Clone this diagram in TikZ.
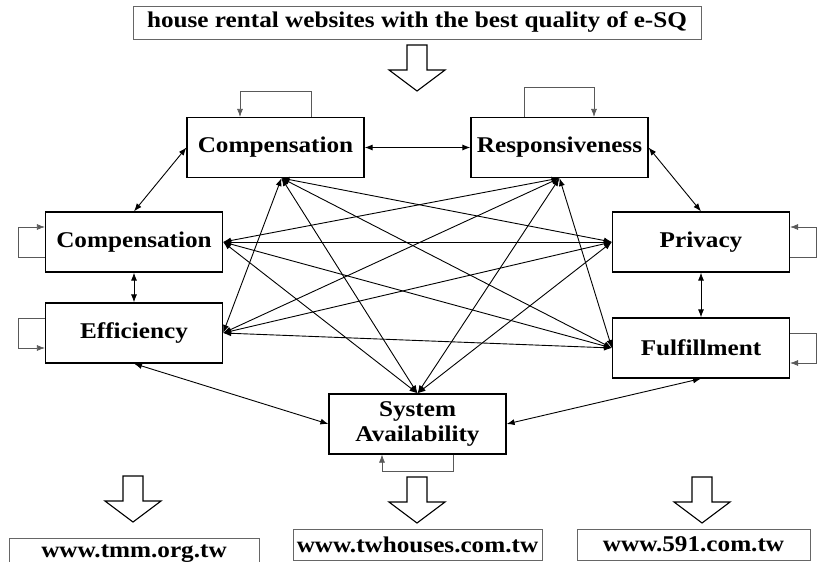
\documentclass[tikz,border=0pt]{standalone}
\usepackage{fontspec}
\setmainfont{Liberation Serif}
\newfontfamily\boxfont[FakeStretch=1.12]{Liberation Serif}
\usepackage{tikz}
\usetikzlibrary{arrows.meta, positioning, calc}

\begin{document}
\begin{tikzpicture}[
  x=1pt, y=-1pt,
  every node/.style={font=\boxfont\bfseries\fontsize{22.5}{25}\selectfont},
  factor/.style={rectangle, draw, line width=1.2pt, minimum width=177pt,
                 minimum height=60pt, align=center, inner sep=2pt},
  site/.style={rectangle, draw=black!60, line width=0.9pt,
               minimum height=31pt, inner sep=2pt},
  link/.style={{Latex[length=8pt,width=6pt]}-{Latex[length=8pt,width=6pt]},
               line width=0.9pt},
  self/.style={-{Latex[length=8pt,width=6pt]}, draw=black!65, line width=0.7pt},
  hollow/.style={draw, line width=1.1pt, fill=white},
  blockarrow/.pic={\draw[hollow] (-10,0) -- (10,0) -- (10,25) -- (28,25)
                   -- (0,46) -- (-28,25) -- (-10,25) -- cycle;},
]
  \useasboundingbox (0,0) rectangle (817,562);
  \clip (0,0) rectangle (817,562);

  \node[site, minimum width=568pt, minimum height=33pt] (title) at (417,22.5)
    {house rental websites with the best quality of e-SQ};
  \pic at (417,45) {blockarrow};

  \node[factor] (comptop) at (275.5,147.5) {Compensation};
  \node[factor] (resp) at (559.5,147.5) {Responsiveness};
  \node[factor] (compleft) at (134,242) {Compensation};
  \node[factor] (eff) at (134,333) {Efficiency};
  \node[factor] (priv) at (701,242) {Privacy};
  \node[factor] (fulf) at (701,348) {Fulfillment};
  \node[factor] (sa) at (417.5,424) {System\\Availability};

  % self loops
  \draw[self] ($(comptop.north)+(36,0)$) -- ++(0,-26) -| ($(comptop.north)+(-35.5,0)$);
  \draw[self] ($(resp.north)+(-35.5,0)$) -- ++(0,-30) -| ($(resp.north)+(34.5,0)$);
  \draw[self] ($(compleft.west)+(0,15)$) -- ++(-27,0) |- ($(compleft.west)+(0,-15)$);
  \draw[self] ($(eff.west)+(0,-15)$) -- ++(-27,0) |- ($(eff.west)+(0,15)$);
  \draw[self] ($(priv.east)+(0,15)$) -- ++(26,0) |- ($(priv.east)+(0,-15)$);
  \draw[self] ($(fulf.east)+(0,-15)$) -- ++(26,0) |- ($(fulf.east)+(0,15)$);
  \draw[self] ($(sa.south)+(35.5,0)$) -- ++(0,17) -| ($(sa.south)+(-35.5,0)$);

  % outer ring
  \draw[link] (comptop) -- (resp);
  \draw[link] (compleft.north) -- (comptop.west);
  \draw[link] (resp.east) -- (priv.north);
  \draw[link] (compleft) -- (eff);
  \draw[link] (priv) -- (fulf);
  \draw[link] (eff.south) -- (sa.west);
  \draw[link] (fulf.south) -- (sa.east);

  % cross links
  \draw[link] ([xshift=6pt]comptop.south) -- (eff.east);
  \draw[link] ([xshift=6pt]comptop.south) -- (sa.north);
  \draw[link] ([xshift=6pt]comptop.south) -- (priv.west);
  \draw[link] ([xshift=6pt]comptop.south) -- (fulf.west);
  \draw[link] (resp.south) -- (compleft.east);
  \draw[link] (resp.south) -- (eff.east);
  \draw[link] (resp.south) -- (sa.north);
  \draw[link] (resp.south) -- (fulf.west);
  \draw[link] (compleft.east) -- (priv.west);
  \draw[link] (compleft.east) -- (fulf.west);
  \draw[link] (compleft.east) -- (sa.north);
  \draw[link] (eff.east) -- (priv.west);
  \draw[link] (eff.east) -- (fulf.west);
  \draw[link] (priv.west) -- (sa.north);

  % websites
  \pic at (133,476) {blockarrow};
  \pic at (417,477) {blockarrow};
  \pic at (702,477) {blockarrow};
  \node[site, minimum width=250pt] (tmm) at (134,554) {www.tmm.org.tw};
  \node[site, minimum width=249pt] (twh) at (417.5,545) {www.twhouses.com.tw};
  \node[site, minimum width=233pt] (s591) at (693.5,544.5) {www.591.com.tw};
\end{tikzpicture}
\end{document}
